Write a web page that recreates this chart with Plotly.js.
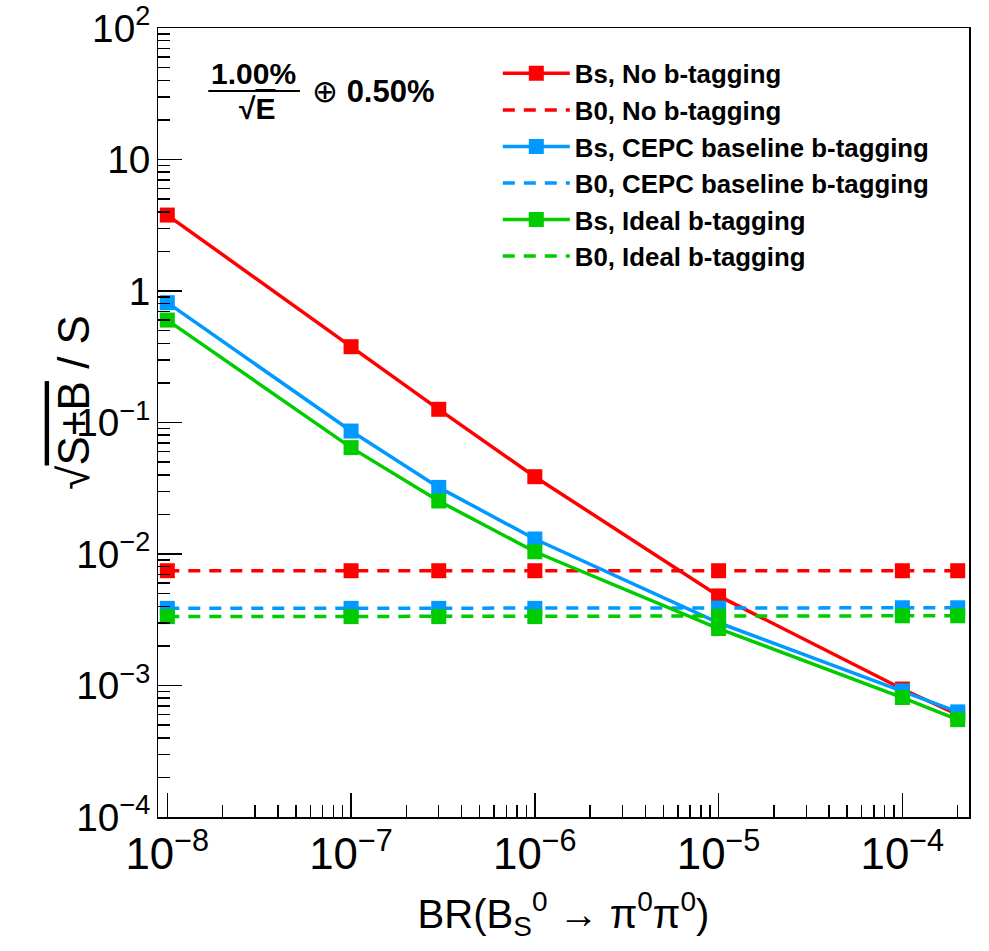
<!DOCTYPE html>
<html>
<head>
<meta charset="utf-8">
<script src="https://cdn.plot.ly/plotly-3.0.1.min.js"></script>
<style>html,body{margin:0;padding:0;background:#fff;}#chart{width:989px;height:951px;}</style>
</head>
<body>
<div id="chart"></div>
<script>
// Branching ratio values (x)
const brValues = [1e-8, 1e-7, 3e-7, 1e-6, 1e-5, 1e-4, 2e-4];

// sqrt(S+B)/S for each scenario
const bsNoTag    = [3.78, 0.377, 0.126, 0.0387, 0.0048, 0.00094, 0.00060];
const b0NoTag    = [0.00746, 0.00746, 0.00746, 0.00746, 0.00746, 0.00746, 0.00746];
const bsCepcTag  = [0.815, 0.0861, 0.0321, 0.0130, 0.0030, 0.00091, 0.00063];
const b0CepcTag  = [0.00386, 0.00386, 0.00386, 0.00386, 0.00388, 0.0039, 0.0039];
const bsIdealTag = [0.601, 0.0644, 0.0253, 0.0104, 0.00271, 0.00081, 0.00055];
const b0IdealTag = [0.00334, 0.00334, 0.00334, 0.00334, 0.00336, 0.00339, 0.00339];

const seriesNames = [
  'Bs, No b-tagging',
  'B0, No b-tagging',
  'Bs, CEPC baseline b-tagging',
  'B0, CEPC baseline b-tagging',
  'Bs, Ideal b-tagging',
  'B0, Ideal b-tagging'
];

const RED = '#ff0000', BLUE = '#0099ff', GREEN = '#00cc00';
const MS = 15, LW = 3.5, DASH = '12px,9px';

function bsTrace(y, name, color, grp) {
  return {x: brValues, y: y, name: name, type: 'scatter', mode: 'lines+markers',
    legendgroup: grp, line: {color: color, width: LW},
    marker: {symbol: 'square', size: MS, color: color}};
}
function b0Line(y, name, color, grp) {
  return {x: brValues, y: y, name: name, type: 'scatter', mode: 'lines',
    legendgroup: grp, line: {color: color, width: LW, dash: DASH}};
}
function b0Markers(y, name, color, grp) {
  return {x: brValues, y: y, name: name, type: 'scatter', mode: 'markers',
    legendgroup: grp, showlegend: false,
    marker: {symbol: 'square', size: MS, color: color}};
}

const data = [
  bsTrace(bsNoTag, seriesNames[0], RED, 'g1'),
  b0Line(b0NoTag, seriesNames[1], RED, 'g2'),
  b0Markers(b0NoTag, seriesNames[1], RED, 'g2'),
  bsTrace(bsCepcTag, seriesNames[2], BLUE, 'g3'),
  b0Line(b0CepcTag, seriesNames[3], BLUE, 'g4'),
  b0Markers(b0CepcTag, seriesNames[3], BLUE, 'g4'),
  bsTrace(bsIdealTag, seriesNames[4], GREEN, 'g5'),
  b0Line(b0IdealTag, seriesNames[5], GREEN, 'g6'),
  b0Markers(b0IdealTag, seriesNames[5], GREEN, 'g6')
];

const axisCommon = {
  type: 'log', dtick: 1, exponentformat: 'power',
  showgrid: false, zeroline: false,
  showline: true, linecolor: '#000', linewidth: 1.5, mirror: true,
  ticks: 'inside', ticklen: 24, tickwidth: 1.5, tickcolor: '#000',
  minor: {ticks: 'inside', ticklen: 12, tickwidth: 1.5, tickcolor: '#000', showgrid: false}
};

const layout = {
  width: 989, height: 951,
  margin: {l: 158, r: 20, t: 28, b: 134},
  paper_bgcolor: '#fff', plot_bgcolor: '#fff',
  font: {family: 'Liberation Sans, Arial, sans-serif', color: '#000'},
  showlegend: true,
  legend: {
    x: 0.419, y: 0.972, xanchor: 'left', yanchor: 'top',
    bgcolor: 'rgba(0,0,0,0)', borderwidth: 0, itemwidth: 67,
    font: {family: 'Liberation Sans, Arial, sans-serif', size: 25.8, weight: 'bold', color: '#000'},
    tracegroupgap: 0, traceorder: 'normal'
  },
  xaxis: Object.assign({}, axisCommon, {
    range: [-8.0506, -3.6374],
    tickfont: {size: 35},
    title: {text: 'BR(B<sub>S</sub><sup>0</sup> → π<sup>0</sup>π<sup>0</sup>)',
      font: {size: 40}, standoff: 22}
  }),
  yaxis: Object.assign({}, axisCommon, {
    range: [-4, 2],
    tickfont: {size: 31},
    title: {text: ''}
  }),
  annotations: [
    {xref: 'paper', yref: 'paper', x: -0.104, y: 0.526, xanchor: 'center', yanchor: 'middle',
     textangle: -90, showarrow: false,
     text: '√<span style="text-decoration:overline">S+B</span> / S',
     font: {size: 44}},
    {xref: 'paper', yref: 'paper', x: 0.118, y: 0.942, xanchor: 'center', yanchor: 'middle',
     showarrow: false, text: '<b>1.00%</b>', font: {size: 30}},
    {xref: 'paper', yref: 'paper', x: 0.122, y: 0.898, xanchor: 'center', yanchor: 'middle',
     showarrow: false, text: '<b>√<span style="text-decoration:overline">E</span></b>', font: {size: 30}},
    {xref: 'paper', yref: 'paper', x: 0.188, y: 0.92, xanchor: 'left', yanchor: 'middle',
     showarrow: false, text: '⊕ <b>0.50%</b>', font: {size: 31}}
  ],
  shapes: [
    {type: 'line', xref: 'paper', yref: 'paper', x0: 0.062, x1: 0.175, y0: 0.92, y1: 0.92,
     line: {color: '#000', width: 2}}
  ]
};

Plotly.newPlot('chart', data, layout, {displayModeBar: false, staticPlot: true});
</script>
</body>
</html>
